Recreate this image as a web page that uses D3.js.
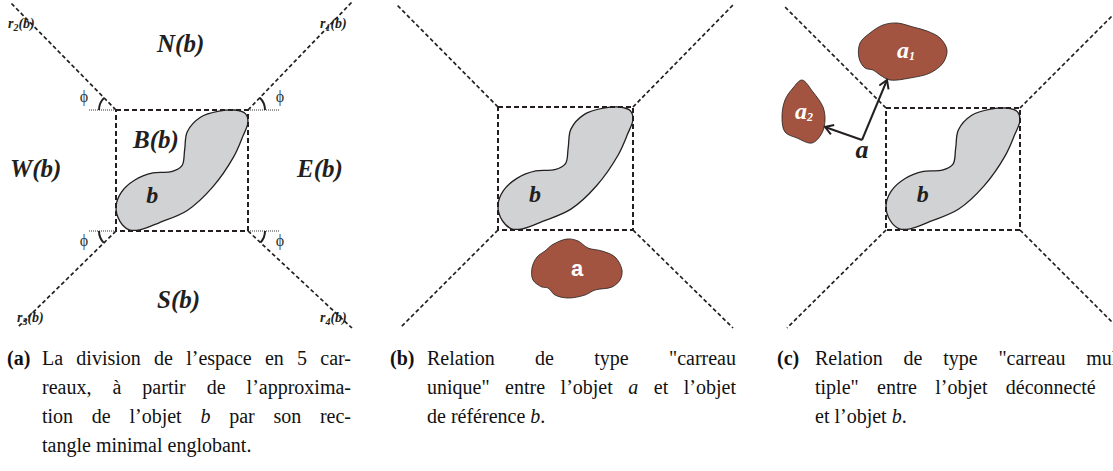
<!DOCTYPE html>
<html><head><meta charset="utf-8">
<script src="https://cdn.jsdelivr.net/npm/d3@7"></script>
<style>body{margin:0;background:#fff}svg{display:block}
.serif{font-family:"Liberation Serif","Tinos","Times New Roman","Times","Nimbus Roman","Nimbus Roman No9 L","Noto Serif","FreeSerif","DejaVu Serif","Georgia",serif}
.sans{font-family:"Liberation Sans","Arimo","Arial","Helvetica","DejaVu Sans",sans-serif}</style>
</head><body>
<script>
const W = 1113, H = 471;
const panelIds = ['a', 'b', 'c'];
const panelOffsets = [0, 382, 770];
const boxes = [[116, 110, 248, 231], [116, 107, 251, 230], [116, 108, 250, 230]];
// ray end points: TL, TR, BL, BR
const rays = [
  [[10, 2], [352, 2], [17, 328], [352, 328]],
  [[15, 5], [351, 5], [18, 328], [351, 328]],
  [[15, 7], [350, 8], [17, 328], [348, 328]]
];
const blobB = [[0.64,0.06],[0.78,0.01],[0.9,0.0],[0.98,0.03],[1.0,0.1],[0.96,0.22],[0.89,0.39],[0.73,0.64],[0.54,0.83],[0.33,0.93],[0.18,0.99],[0.1,0.99],[0.03,0.92],[0.0,0.8],[0.04,0.68],[0.14,0.58],[0.28,0.52],[0.42,0.51],[0.5,0.46],[0.52,0.33],[0.54,0.18]];
const objA = [[170,245],[185,239],[196,241],[206,248],[220,251],[233,257],[240,270],[238,280],[230,287],[213,290],[203,295],[186,298],[173,295],[166,288],[160,287],[151,280],[150,268],[155,257],[163,251]];
const objA1 = [[90,43],[100,33],[113,25],[127,23],[143,27],[157,31],[170,38],[177,50],[173,63],[160,73],[140,78],[120,80],[110,75],[103,70],[95,68],[89,58]];
const objA2 = [[32,80],[43,92],[53,107],[55,120],[52,133],[42,143],[27,138],[15,132],[12,117],[15,100],[23,88]];
const arrowVertex = [92, 140];
const arrowTargets = [[117, 80], [55, 127]];
const zoneLabels = [["N", 157, 52], ["W", 10, 177], ["E", 297, 177], ["S", 157, 308], ["B", 133, 148]];
const rayLabels = [["2", 8, 28], ["1", 320, 28], ["3", 17, 322], ["4", 320, 322]];
const captionLabels = ["(a)", "(b)", "(c)"];
const captions = [
  ["La division de l’espace en 5 car-", "reaux, à partir de l’approxima-", "tion de l’objet *b* par son rec-", "tangle minimal englobant."],
  ["Relation de type \"carreau", "unique\" entre l’objet *a* et l’objet", "de référence *b*."],
  ["Relation de type \"carreau mul-", "tiple\" entre l’objet déconnecté *a*", "et l’objet *b*."]
];

const INK = "#231f20", GREY = "#d1d2d4", BROWN = "#a35440";
const svg = d3.select("body").append("svg").attr("width", W).attr("height", H);
const defs = svg.append("defs");
defs.append("marker").attr("id", "arr").attr("viewBox", "0 0 12 12").attr("refX", 10).attr("refY", 6)
  .attr("markerWidth", 12).attr("markerHeight", 12).attr("markerUnits", "userSpaceOnUse").attr("orient", "auto")
  .append("path").attr("d", "M2,1 L10,6 L2,11").attr("fill", "none").attr("stroke", INK).attr("stroke-width", 2);

const smooth = d3.line().curve(d3.curveCatmullRomClosed.alpha(0.5));

function label(g, cls, xx, yy, size) {
  return g.append("text").attr("class", cls).attr("x", xx).attr("y", yy).attr("font-size", size);
}

panelIds.forEach((id, i) => {
  const ox = panelOffsets[i];
  const x = d3.scaleLinear().domain([0, 370]).range([ox, ox + 370]);
  const y = d3.scaleLinear().domain([0, 471]).range([0, 471]);
  const [bx0, by0, bx1, by1] = boxes[i];
  const corners = [[bx0, by0], [bx1, by0], [bx0, by1], [bx1, by1]];
  const g = svg.append("g");
  g.selectAll("line.ray").data(rays[i]).join("line").attr("class", "ray")
    .attr("x1", (d, k) => x(corners[k][0])).attr("y1", (d, k) => y(corners[k][1]))
    .attr("x2", d => x(d[0])).attr("y2", d => y(d[1]))
    .attr("stroke", INK).attr("stroke-width", 1.7).attr("stroke-dasharray", "4,2.6");
  const u = d3.scaleLinear().domain([0, 1]).range([x(bx0), x(bx1)]);
  const v = d3.scaleLinear().domain([0, 1]).range([y(by0), y(by1)]);
  g.append("path").attr("d", smooth(blobB.map(p => [u(p[0]), v(p[1])])))
    .attr("fill", GREY).attr("stroke", INK).attr("stroke-width", 1.3);
  g.append("rect").attr("x", x(bx0)).attr("y", y(by0)).attr("width", x(bx1) - x(bx0)).attr("height", y(by1) - y(by0))
    .attr("fill", "none").attr("stroke", INK).attr("stroke-width", 2).attr("stroke-dasharray", "5,3");
  label(g, "serif", u(0.23), v(0.77), 24).attr("font-weight", "bold").attr("font-style", "italic").attr("fill", INK).text("b");

  if (id === 'a') {
    zoneLabels.forEach(([L, lx, ly]) => {
      label(g, "serif", x(lx), y(ly), 25).attr("font-weight", "bold").attr("font-style", "italic").attr("fill", INK).text(L + "(b)");
    });
    rayLabels.forEach(([n, lx, ly]) => {
      const t = label(g, "serif", x(lx), y(ly), 14).attr("font-weight", "bold").attr("font-style", "italic").attr("fill", INK);
      t.append("tspan").text("r");
      t.append("tspan").attr("font-size", 10).attr("dy", 3).text(n);
      t.append("tspan").attr("dy", -3).text("(b)");
    });
    corners.forEach(([cx, cy], k) => {
      const dx = k % 2 === 0 ? -1 : 1, dy = k < 2 ? -1 : 1;
      const len = k % 2 === 0 ? 28 : 32;
      g.append("line").attr("x1", x(cx)).attr("y1", y(cy)).attr("x2", x(cx + dx * len)).attr("y2", y(cy))
        .attr("stroke", INK).attr("stroke-width", 0.9).attr("stroke-dasharray", "1,1");
      const a0 = dx < 0 ? Math.PI : 0;
      const ang = Math.atan2(rays[i][k][1] - cy, rays[i][k][0] - cx);
      const p = d3.path();
      p.arc(x(cx), y(cy), 17, a0, ang, (dx < 0) === (dy < 0) ? false : true);
      g.append("path").attr("d", p.toString()).attr("fill", "none").attr("stroke", INK).attr("stroke-width", 2);
      label(g, "serif", x(cx + dx * 32), y(cy + (dy < 0 ? -8 : 15)), 16)
        .attr("text-anchor", "middle").attr("fill", "#333").text("ϕ");
    });
  }
  if (id === 'b') {
    g.append("path").attr("d", smooth(objA.map(p => [x(p[0]), y(p[1])]))).attr("fill", BROWN).attr("stroke", INK).attr("stroke-width", 0.8);
    label(g, "sans", x(195), y(276), 22).attr("text-anchor", "middle").attr("font-weight", "bold").attr("fill", "#fff").text("a");
  }
  if (id === 'c') {
    [objA1, objA2].forEach(o => g.append("path").attr("d", smooth(o.map(p => [x(p[0]), y(p[1])])))
      .attr("fill", BROWN).attr("stroke", INK).attr("stroke-width", 0.8));
    [["1", 127, 58], ["2", 25, 119]].forEach(([n, lx, ly]) => {
      const t = label(g, "serif", x(lx), y(ly), 24).attr("font-weight", "bold").attr("font-style", "italic").attr("fill", "#fff");
      t.append("tspan").text("a");
      t.append("tspan").attr("font-size", 12).attr("dy", 2).text(n);
    });
    arrowTargets.forEach(tg => {
      g.append("line").attr("x1", x(arrowVertex[0])).attr("y1", y(arrowVertex[1])).attr("x2", x(tg[0])).attr("y2", y(tg[1]))
        .attr("stroke", INK).attr("stroke-width", 2).attr("marker-end", "url(#arr)");
    });
    label(g, "serif", x(arrowVertex[0]), y(arrowVertex[1] + 18), 26).attr("text-anchor", "middle")
      .attr("font-weight", "bold").attr("font-style", "italic").attr("fill", INK).text("a");
  }
});

// captions
const capLabelX = [7, 390, 777], capTextX = [42, 427, 815], capWidth = 309;
const baseY = 365, lineH = 29;
captions.forEach((lines, i) => {
  label(svg, "serif", capLabelX[i], baseY, 20).attr("font-weight", "bold").attr("fill", "#111").text(captionLabels[i]);
  lines.forEach((line, li) => {
    const words = line.split(" ");
    const nodes = words.map(w => {
      const t = svg.append("text").attr("class", "serif").attr("y", baseY + li * lineH).attr("font-size", 20).attr("fill", "#111");
      w.split("*").forEach((seg, si) => { if (seg) t.append("tspan").attr("font-style", si % 2 ? "italic" : "normal").text(seg); });
      return t;
    });
    const widths = nodes.map(n => n.node().getComputedTextLength());
    const total = d3.sum(widths);
    const last = li === lines.length - 1;
    const gap = (!last && words.length > 1) ? (capWidth - total) / (words.length - 1) : 5;
    let cx = capTextX[i];
    nodes.forEach((n, k) => { n.attr("x", cx); cx += widths[k] + gap; });
  });
});
</script>
</body></html>
